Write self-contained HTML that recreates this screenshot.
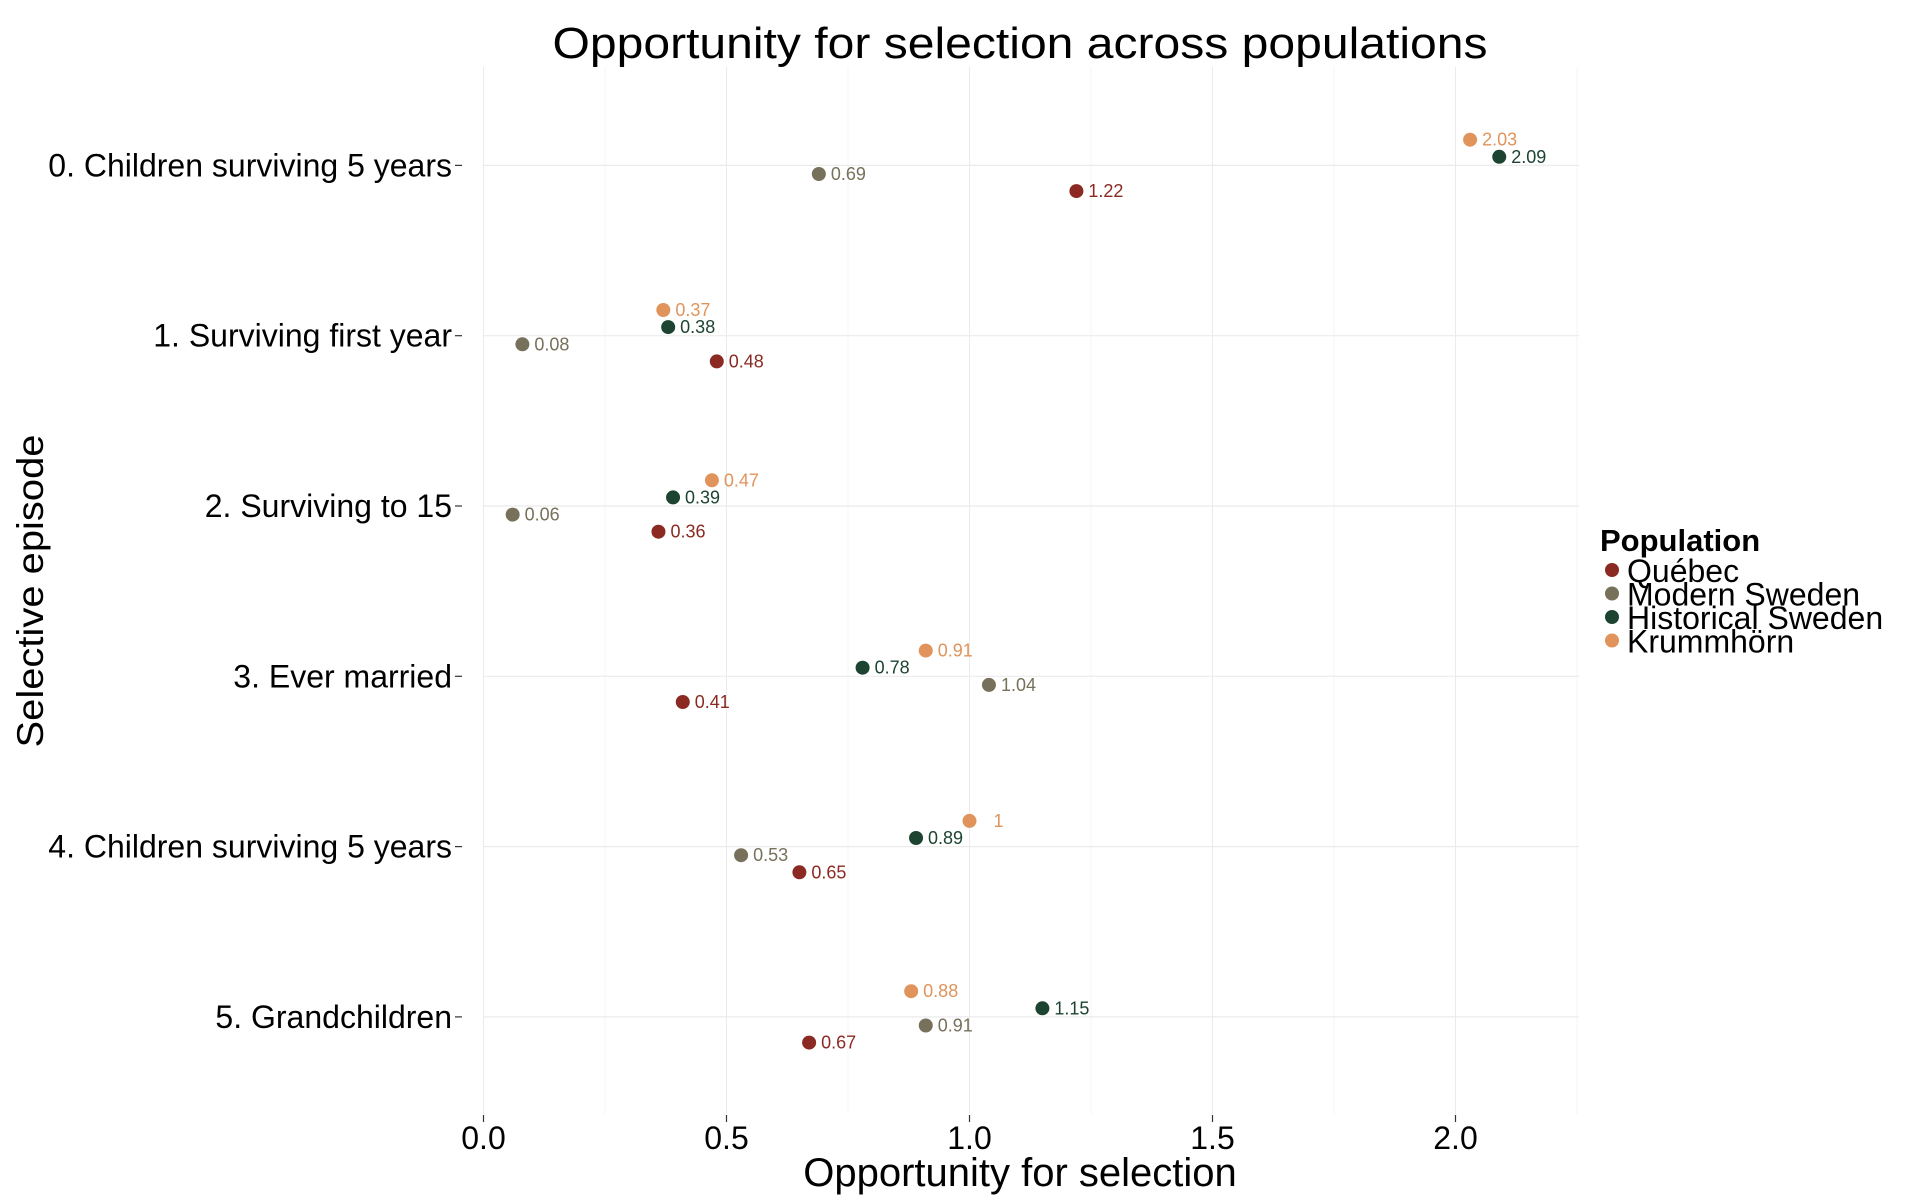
<!DOCTYPE html>
<html><head><meta charset="utf-8"><style>html,body{margin:0;padding:0;background:#fff}svg{display:block;font-family:"Liberation Sans",Arial,sans-serif}</style></head>
<body>
<svg id="chart" width="1920" height="1200" viewBox="0 0 1920 1200" xmlns="http://www.w3.org/2000/svg">
<text x="1020" y="58" text-anchor="middle" font-size="44" textLength="935" lengthAdjust="spacingAndGlyphs">Opportunity for selection across populations</text>
<g id="grid"></g>
<g id="yaxis"></g>
<g id="xaxis"></g>
<g id="marks"></g>
<text transform="translate(43,591) rotate(-90)" text-anchor="middle" font-size="37" textLength="313" lengthAdjust="spacingAndGlyphs">Selective episode</text>
<text x="1020" y="1186" text-anchor="middle" font-size="40">Opportunity for selection</text>
<g id="legend">
<text x="1600" y="551" font-size="31" font-weight="bold">Population</text>
</g>
</svg>
<script>
const categories = ["0. Children surviving 5 years","1. Surviving first year","2. Surviving to 15","3. Ever married","4. Children surviving 5 years","5. Grandchildren"];
const seriesNames = ["Krummhörn","Historical Sweden","Modern Sweden","Québec"];
const krummhorn = [2.03,0.37,0.47,0.91,1.00,0.88];
const historicalSweden = [2.09,0.38,0.39,0.78,0.89,1.15];
const modernSweden = [0.69,0.08,0.06,1.04,0.53,0.91];
const quebec = [1.22,0.48,0.36,0.41,0.65,0.67];
const labelsK = ["2.03","0.37","0.47","0.91","1","0.88"];
const labelsH = ["2.09","0.38","0.39","0.78","0.89","1.15"];
const labelsM = ["0.69","0.08","0.06","1.04","0.53","0.91"];
const labelsQ = ["1.22","0.48","0.36","0.41","0.65","0.67"];
const xTicks = [0,0.5,1,1.5,2];
const xTickLabels = ["0.0","0.5","1.0","1.5","2.0"];
const legendOrder = ["Québec","Modern Sweden","Historical Sweden","Krummhörn"];

const NS="http://www.w3.org/2000/svg";
const colors={"Québec":"#8B2A22","Modern Sweden":"#77705A","Historical Sweden":"#1C4430","Krummhörn":"#E0945C"};
const X0=483.5, XU=486, PL=483.5, PR=1579, PT=67, PB=1114;
const xs=v=>X0+v*XU;
const ys=i=>165.4+i*170.3;
const dodge={"Krummhörn":-25.7,"Historical Sweden":-8.6,"Modern Sweden":8.6,"Québec":25.7};
function mk(tag,attrs,parent){const e=document.createElementNS(NS,tag);for(const k in attrs)e.setAttribute(k,attrs[k]);parent.appendChild(e);return e;}
const grid=document.getElementById('grid'),ya=document.getElementById('yaxis'),xa=document.getElementById('xaxis'),marks=document.getElementById('marks'),leg=document.getElementById('legend');
for(let v=0;v<=2.25;v+=0.25){const l=mk('line',{x1:xs(v),x2:xs(v),y1:PT,y2:PB,stroke:(Math.round(v*4)%2?'#f4f4f4':'#ebebeb'),'stroke-width':1},grid);

}
categories.forEach((c,i)=>{const y=ys(i);
const g=mk('line',{x1:PL,x2:PR,y1:y,y2:y,stroke:'#ebebeb','stroke-width':1.2},grid);


const t=mk('line',{x1:455,x2:462,y1:y,y2:y,stroke:'#333','stroke-width':1.2},ya);


const tx=mk('text',{x:452,y:y+11,'text-anchor':'end','font-size':32},ya);tx.textContent=c;

});
xTicks.forEach((v,i)=>{const t=mk('line',{x1:xs(v),x2:xs(v),y1:PB+1,y2:PB+8,stroke:'#333','stroke-width':1.2},xa);


const tx=mk('text',{x:xs(v),y:1149,'text-anchor':'middle','font-size':32},xa);tx.textContent=xTickLabels[i];

});
const series={"Krummhörn":[krummhorn,labelsK],"Historical Sweden":[historicalSweden,labelsH],"Modern Sweden":[modernSweden,labelsM],"Québec":[quebec,labelsQ]};
seriesNames.forEach(s=>{const [vals,labs]=series[s];vals.forEach((v,i)=>{const y=ys(i)+dodge[s];
const c=mk('circle',{cx:xs(v),cy:y,r:7,fill:colors[s]},marks);


const tx=mk('text',{x:xs(v)+(labs[i].length===1?24:12),y:y+6,'font-size':18,fill:colors[s]},marks);tx.textContent=labs[i];

});});
legendOrder.forEach((s,i)=>{const y=577+i*23.5;
const c=mk('circle',{cx:1612,cy:y-7,r:7,fill:colors[s]},leg);


const tx=mk('text',{x:1627,y:y+5,'font-size':32},leg);tx.textContent=s;

});
</script>
</body></html>
